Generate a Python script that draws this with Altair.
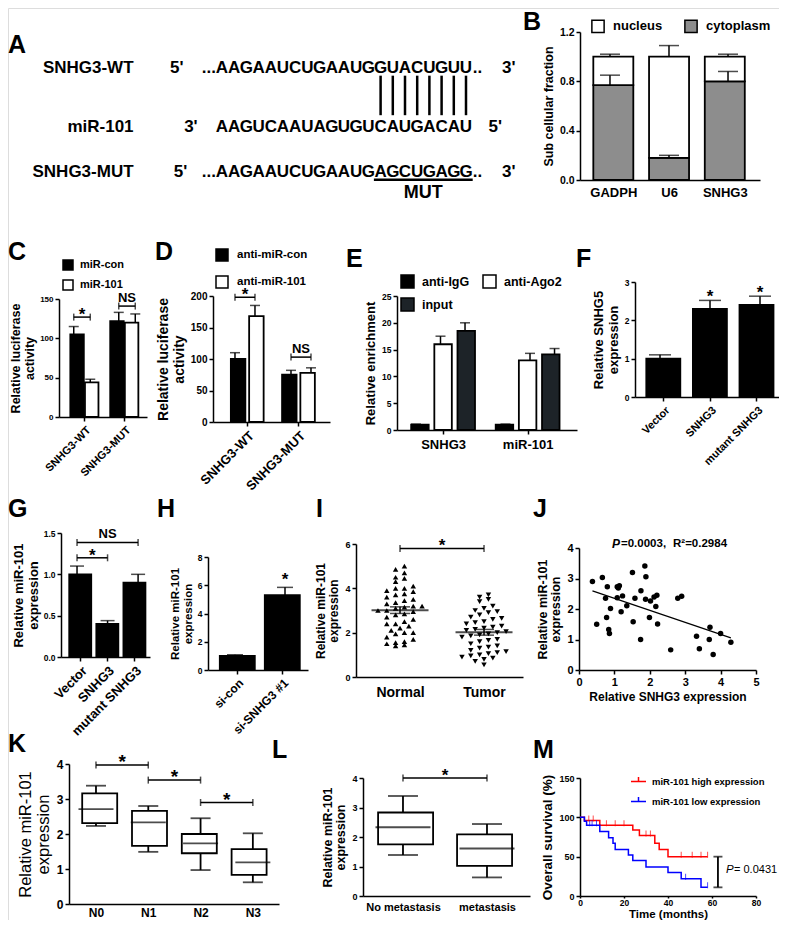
import json
import numpy as np
import pandas as pd
import altair as alt

FONT = "Liberation Sans"
W, H = 771, 912
M0 = 8  # page margin: image px -> canvas px

# ======================= DATA =======================
# A: sequences
A_ROWS = ["SNHG3-WT", "miR-101", "SNHG3-MUT"]
A_SEQ = ["AAGAAUCUGAAUGGUACUGUU", "AAGUCAAUAGUGUCAUGACAU", "AAGAAUCUGAAUGAGCUGAGG"]
A_END5 = ["5'", "3'", "5'"]
A_END3 = ["3'", "5'", "3'"]
A_LEAD = ["...", "", "..."]
A_TRAIL = ["..", "", ".."]
A_PAIRED = [13, 14, 15, 16, 17, 18, 19, 20]
A_MUTATED = [13, 14, 15, 16, 17, 18, 19, 20]

# B: subcellular fraction
B_GENES = ["GADPH", "U6", "SNHG3"]
B_PARTS = ["nucleus", "cytoplasm"]
B_CYTO = [0.77, 0.18, 0.80]
B_CYTO_SEM = [0.08, 0.02, 0.08]
B_TOTAL = [1.0, 1.0, 1.0]
B_TOTAL_SEM = [0.02, 0.09, 0.02]

# C
C_GROUPS = ["SNHG3-WT", "SNHG3-MUT"]
C_SERIES = ["miR-con", "miR-101"]
C_MEAN = [[105, 122], [44, 120]]
C_SEM = [[10, 11], [4, 11]]
C_SIG = [(0, 127, "*"), (1, 141, "NS")]

# D
D_GROUPS = ["SNHG3-WT", "SNHG3-MUT"]
D_SERIES = ["anti-miR-con", "anti-miR-101"]
D_MEAN = [[100, 75], [168, 78]]
D_SEM = [[10, 7], [17, 8]]
D_SIG = [(0, 198, "*"), (1, 103, "NS")]

# E
E_GROUPS = ["SNHG3", "miR-101"]
E_SERIES = ["anti-IgG", "anti-Ago2", "input"]
E_MEAN = [[1.0, 1.0], [16.0, 13.0], [18.5, 14.1]]
E_SEM = [[0.1, 0.1], [1.5, 1.3], [1.5, 1.1]]

# F
F_CATS = ["Vector", "SNHG3", "mutant SNHG3"]
F_MEAN = [1.0, 2.3, 2.4]
F_SEM = [0.1, 0.22, 0.23]
F_STARS = [1, 2]

# G
G_CATS = ["Vector", "SNHG3", "mutant SNHG3"]
G_MEAN = [1.0, 0.4, 0.9]
G_SEM = [0.1, 0.04, 0.1]
G_SIG = [(0, 1, 1.2, "*"), (0, 2, 1.385, "NS")]

# H
H_CATS = ["si-con", "si-SNHG3 #1"]
H_MEAN = [1.0, 5.3]
H_SEM = [0.08, 0.55]
H_STARS = [1]

# I
I_CATS = ["Normal", "Tumor"]
I_NORMAL = [5.0, 4.85, 4.7, 4.5, 4.45, 4.3, 4.1, 4.0, 4.0, 3.9, 3.85, 3.75, 3.7, 3.6, 3.5,
            3.45, 3.35, 3.3, 3.2, 3.2, 3.15, 3.1, 3.0, 3.0, 2.95, 2.85, 2.8, 2.7, 2.6, 2.5,
            2.4, 2.4, 2.3, 2.2, 2.1, 2.0, 2.0, 1.95, 1.8, 1.7, 1.6, 1.55, 1.5, 1.45, 1.4]
I_TUMOR = [3.7, 3.6, 3.5, 3.4, 3.2, 3.1, 3.0, 2.95, 2.9, 2.8, 2.7, 2.65, 2.6, 2.5, 2.45,
           2.4, 2.3, 2.25, 2.2, 2.15, 2.1, 2.05, 2.0, 1.95, 1.9, 1.85, 1.8, 1.7, 1.65, 1.6,
           1.5, 1.4, 1.35, 1.3, 1.2, 1.15, 1.1, 1.05, 1.0, 0.95, 0.9, 0.85, 0.8, 0.7, 0.55]
I_SIG = [(0, 1, 5.8, "*")]

# J
J_X = [0.38, 0.66, 0.80, 1.08, 1.14, 1.11, 1.23, 0.75, 1.51, 1.86, 1.89, 1.75, 1.58, 1.88, 2.12,
       2.20, 2.79, 2.90, 0.50, 0.78, 0.84, 0.86, 0.89, 1.19, 1.35, 1.53, 1.74, 1.99, 2.02, 2.17,
       2.22, 2.59, 3.32, 3.40, 3.68, 3.70, 3.79, 4.00, 4.29, 1.08]
J_Y = [2.90, 3.03, 2.73, 2.73, 2.76, 2.69, 2.43, 2.35, 3.20, 3.41, 3.06, 2.60, 2.35, 2.32, 2.39,
       2.45, 2.35, 2.42, 1.50, 1.72, 1.33, 1.20, 2.02, 1.91, 2.11, 1.58, 1.00, 1.72, 2.26, 2.08,
       1.51, 0.66, 1.11, 0.70, 1.00, 1.40, 0.51, 1.20, 0.91, 2.37]
J_P = "0.0003"
J_R2 = "0.2984"

# K
K_CATS = ["N0", "N1", "N2", "N3"]
K_MIN = [2.23, 1.49, 0.97, 0.62]
K_Q1 = [2.31, 1.66, 1.45, 0.83]
K_MED = [2.71, 2.33, 1.73, 1.19]
K_Q3 = [3.16, 2.66, 2.00, 1.57]
K_MAX = [3.38, 2.80, 2.45, 2.02]
K_SIG = [(0, 1, 3.97, "*"), (1, 2, 3.54, "*"), (2, 3, 2.9, "*")]

# L
L_CATS = ["No metastasis", "metastasis"]
L_MIN = [1.39, 0.63]
L_Q1 = [1.75, 1.02]
L_MED = [2.33, 1.61]
L_Q3 = [2.83, 2.09]
L_MAX = [3.39, 2.44]
L_SIG = [(0, 1, 4.0, "*")]

# M
M_GROUPS = ["miR-101 high expression", "miR-101 low expression"]
M_HIGH_T = [0, 2, 9, 24, 27, 34, 36, 40, 58]
M_HIGH_S = [100, 96, 90, 84, 77, 67, 59, 50, 50]
M_LOW_T = [0, 2, 3, 9, 13, 15, 16, 22, 24, 30, 40, 46, 55, 58]
M_LOW_S = [100, 95, 90, 82, 74, 67, 59, 52, 45, 37, 30, 22, 11, 11]
M_HIGH_CENS = [4, 6, 12, 16, 20, 30, 32, 46, 51, 55, 58]
M_LOW_CENS = [4.4, 5.5, 7.5, 48, 58]
M_P = "0.0431"

# ======================= HELPERS =======================
def sc(domain, lo, hi):
    return alt.Scale(domain=domain, range=[lo - M0, hi - M0], zero=False, nice=False)


def Xq(f, s, axis=None):
    return alt.X(f + ":Q", scale=s, axis=axis)


def Yq(f, s, axis=None):
    return alt.Y(f + ":Q", scale=s, axis=axis)


def y_axis(x_img, values, title, lsize=9, tsize=13, fmt=None, tweight="bold", tpad=4, lpad=2):
    kw = dict(orient="left", offset=-(x_img - M0), values=values, grid=False, title=title,
              domainColor="black", domainWidth=1.5, tickColor="black", tickWidth=1.5, tickSize=4,
              labelFont=FONT, labelFontSize=lsize, labelFontWeight="bold", labelColor="black",
              labelPadding=lpad, labelFlush=False, labelOverlap=False,
              titleFont=FONT, titleFontSize=tsize, titleFontWeight=tweight, titleColor="black",
              titlePadding=tpad, titleLineHeight=tsize * 1.1)
    if fmt:
        kw["format"] = fmt
    return alt.Axis(**kw)


def x_axis(y_img, values, labels=None, lsize=11, angle=0, ticks=True, title=None, tsize=13,
           lpad=2, tpad=3, tick_size=4, title_y=None):
    kw = dict(orient="bottom", offset=(y_img - M0) - H, values=values, grid=False,
              domainColor="black", domainWidth=1.5, tickColor="black", tickWidth=1.5,
              ticks=ticks, tickSize=tick_size if ticks else 0,
              labelFont=FONT, labelFontSize=lsize, labelFontWeight="bold", labelColor="black",
              labelPadding=lpad, labelFlush=False, labelOverlap=False, labelAngle=angle)
    if labels is not None:
        kw["labelExpr"] = json.dumps(labels) + "[round(datum.value)]"
    if angle:
        kw["labelAlign"] = "right"
        kw["labelBaseline"] = "top"
    if title:
        kw.update(title=title, titleFont=FONT, titleFontSize=tsize, titleFontWeight="bold",
                  titleColor="black", titlePadding=tpad)
        if title_y is not None:
            kw.update(titleY=title_y, titleBaseline="alphabetic")
    else:
        kw["title"] = None
    return alt.Axis(**kw)


def legend(x_img, y_img, size, lsize, offset, direction="vertical", columns=0, colpad=10,
           rowpad=2, symbol="square", stroke_w=1.5):
    kw = dict(title=None, orient="none", legendX=x_img - M0, legendY=y_img - M0,
              direction=direction, symbolType=symbol, symbolSize=size,
              symbolStrokeWidth=stroke_w, symbolStrokeColor="black",
              labelFont=FONT, labelFontSize=lsize, labelFontWeight="bold", labelColor="black",
              labelOffset=offset, columnPadding=colpad, rowPadding=rowpad, padding=0)
    if columns:
        kw["columns"] = columns
    return alt.Legend(**kw)


def bar_panel(cats, series, means, sems, colors, xs, ys, xax, yax, bar_w, cap_w, dodge, leg=None,
              legend_order=None):
    ns = len(series)
    rows = []
    for si, s in enumerate(series):
        off = (si - (ns - 1) / 2) * dodge
        for ci in range(len(cats)):
            m, e = means[si][ci], sems[si][ci]
            rows.append(dict(series=s, x=ci + off, v=m, base=0.0, top=m + e))
    df = pd.DataFrame(rows)
    dom = legend_order or series
    rng = [colors[series.index(s)] for s in dom]
    color = alt.Color("series:N", scale=alt.Scale(domain=dom, range=rng), legend=leg)
    bars = alt.Chart(df).mark_bar(width=bar_w, stroke="black", strokeWidth=1.8).encode(
        x=Xq("x", xs, xax), y=Yq("v", ys, yax), y2="base:Q", color=color)
    err = alt.Chart(df).mark_rule(color="black", strokeWidth=1.5).encode(
        x=Xq("x", xs), y=Yq("v", ys), y2="top:Q")
    cap = alt.Chart(df).mark_tick(orient="horizontal", size=cap_w, thickness=1.5, color="black").encode(
        x=Xq("x", xs), y=Yq("top", ys))
    return [bars, err, cap], df


def brackets(rows, xs, ys, tick=7, star_size=17, ns_size=13, star_dy=3):
    df = pd.DataFrame([dict(x1=a, x2=b, lv=l, lab=t, xm=(a + b) / 2) for a, b, l, t in rows])
    out = [alt.Chart(df).mark_rule(color="black", strokeWidth=1.5).encode(
        x=Xq("x1", xs), x2="x2:Q", y=Yq("lv", ys))]
    ends = pd.DataFrame([dict(x=v, lv=l) for a, b, l, t in rows for v in (a, b)])
    out.append(alt.Chart(ends).mark_tick(orient="vertical", size=tick, thickness=1.5, color="black").encode(
        x=Xq("x", xs), y=Yq("lv", ys)))
    star = df[df.lab == "*"]
    nsd = df[df.lab != "*"]
    if len(star):
        out.append(alt.Chart(star).mark_text(font=FONT, fontSize=star_size, fontWeight="bold",
                                             baseline="alphabetic", dy=star_dy, color="black").encode(
            x=Xq("xm", xs), y=Yq("lv", ys), text="lab:N"))
    if len(nsd):
        out.append(alt.Chart(nsd).mark_text(font=FONT, fontSize=ns_size, fontWeight="bold",
                                            baseline="alphabetic", dy=-4.5, color="black").encode(
            x=Xq("xm", xs), y=Yq("lv", ys), text="lab:N"))
    return out


def box_panel(mins, q1, med, q3, maxs, xs, ys, xax, yax, box_w, cap_w):
    df = pd.DataFrame(dict(k=list(range(len(mins))), lo=mins, q1=q1, med=med, q3=q3, hi=maxs))
    out = [
        alt.Chart(df).mark_rule(color="black", strokeWidth=1.8).encode(
            x=Xq("k", xs, xax), y=Yq("lo", ys, yax), y2="hi:Q"),
        alt.Chart(df).mark_bar(width=box_w, fill="white", stroke="black", strokeWidth=1.8).encode(
            x=Xq("k", xs), y=Yq("q1", ys), y2="q3:Q"),
        alt.Chart(df).mark_tick(orient="horizontal", size=box_w, thickness=1.8, color="black").encode(
            x=Xq("k", xs), y=Yq("med", ys)),
        alt.Chart(df).mark_tick(orient="horizontal", size=cap_w, thickness=1.8, color="black").encode(
            x=Xq("k", xs), y=Yq("lo", ys)),
        alt.Chart(df).mark_tick(orient="horizontal", size=cap_w, thickness=1.8, color="black").encode(
            x=Xq("k", xs), y=Yq("hi", ys)),
    ]
    return out


def pixel_text(rows, size, weight="bold", style="normal", align="left", baseline="middle"):
    df = pd.DataFrame([dict(t=t, x=x - M0, y=y - M0) for t, x, y in rows])
    return alt.Chart(df).mark_text(font=FONT, fontSize=size, fontWeight=weight, fontStyle=style,
                                   align=align, baseline=baseline, color="black").encode(
        x=alt.X("x:Q", scale=None, axis=None), y=alt.Y("y:Q", scale=None, axis=None), text="t:N")


layers = []

# ======================= PANEL A =======================
a_x = sc([-15, 26], 39, 539.2)
a_y = alt.Scale(domain=[0, 1, 2], range=[68 - M0, 127 - M0, 172 - M0], zero=False, nice=False)
LBL_I = -7.25
END5_I = [-3.7, -2.55, -3.4]
END3_I = [23.5, 22.4, 23.5]

a_chars = pd.DataFrame([dict(row=r, i=k, ch=c) for r, s in enumerate(A_SEQ) for k, c in enumerate(s)])
a_lbl = pd.DataFrame(dict(row=[0, 1, 2], i=[LBL_I] * 3, t=A_ROWS))
a_ends = pd.DataFrame(dict(row=[0, 1, 2] * 2, i=END5_I + END3_I, t=A_END5 + A_END3))
a_lead = pd.DataFrame([dict(row=r, i=-0.5, t=t) for r, t in enumerate(A_LEAD) if t])
a_trail = pd.DataFrame([dict(row=r, i=len(A_SEQ[r]) - 0.45, t=t) for r, t in enumerate(A_TRAIL) if t])
a_pairs = pd.DataFrame(dict(i=A_PAIRED, y0=[0.13] * len(A_PAIRED), y1=[0.8] * len(A_PAIRED)))
a_under = pd.DataFrame(dict(x0=[min(A_MUTATED) - 0.55], x1=[max(A_MUTATED) + 0.55], y=[2.17]))
a_mut = pd.DataFrame(dict(i=[sum(A_MUTATED) / len(A_MUTATED)], row=[2.47], t=["MUT"]))


def a_text(df, size=17, align="center"):
    return alt.Chart(df).mark_text(font=FONT, fontSize=size, fontWeight="bold", align=align,
                                   color="black").encode(
        x=Xq("i", a_x), y=alt.Y("row:Q", scale=a_y, axis=None), text=alt.Text(df.columns[-1] + ":N"))


layers += [
    a_text(a_chars),
    a_text(a_lbl, 17, "right"),
    a_text(a_ends, 17),
    a_text(a_lead, 17, "right"),
    a_text(a_trail, 17, "left"),
    alt.Chart(a_pairs).mark_rule(color="black", strokeWidth=2.5).encode(
        x=Xq("i", a_x), y=alt.Y("y0:Q", scale=a_y, axis=None), y2="y1:Q"),
    alt.Chart(a_under).mark_rule(color="black", strokeWidth=2.5).encode(
        x=Xq("x0", a_x), x2="x1:Q", y=alt.Y("y:Q", scale=a_y, axis=None)),
    a_text(a_mut, 18),
]

# ======================= PANEL B =======================
bx = sc([-0.508, 2.542], 580, 760)
by = sc([0, 1.2], 180, 32)
b_rows = []
for k in range(len(B_GENES)):
    b_rows.append(dict(k=k, part="cytoplasm", y0=0.0, y1=B_CYTO[k]))
    b_rows.append(dict(k=k, part="nucleus", y0=B_CYTO[k], y1=B_TOTAL[k]))
b_df = pd.DataFrame(b_rows)
b_err = pd.DataFrame(dict(k=list(range(3)) * 2, v=B_CYTO + B_TOTAL,
                          top=[c + e for c, e in zip(B_CYTO, B_CYTO_SEM)] +
                              [t + e for t, e in zip(B_TOTAL, B_TOTAL_SEM)]))
layers += [
    alt.Chart(b_df).mark_bar(width=40, stroke="black", strokeWidth=1.8).encode(
        x=Xq("k", bx, x_axis(180, [0, 1, 2], B_GENES, lsize=13, ticks=False, lpad=6)),
        y=Yq("y0", by, y_axis(580, [0, 0.4, 0.8, 1.2], "Sub cellular fraction", lsize=10.5,
                              tsize=12.5, fmt=".1f")),
        y2="y1:Q",
        color=alt.Color("part:N", scale=alt.Scale(domain=B_PARTS, range=["white", "#8d8d8d"]),
                        legend=legend(591, 19, 150, 13, 8, direction="horizontal", colpad=18))),
    alt.Chart(b_err).mark_rule(color="black", strokeWidth=1.5).encode(
        x=Xq("k", bx), y=Yq("v", by), y2="top:Q"),
    alt.Chart(b_err).mark_tick(orient="horizontal", size=20, thickness=1.5, color="black").encode(
        x=Xq("k", bx), y=Yq("top", by)),
]

# ======================= PANEL C =======================
cx = sc([-0.511, 1.444], 59, 147)
cy = sc([0, 150], 417, 299)
c_dodge = 0.367
c_layers, _ = bar_panel(C_GROUPS, C_SERIES, C_MEAN, C_SEM, ["black", "white"], cx, cy,
                        x_axis(417, [0, 1], C_GROUPS, lsize=11, angle=-45, lpad=3),
                        y_axis(59, [0, 50, 100, 150], ["Relative luciferase", "activity"], lsize=8,
                               tsize=12.5, tpad=3),
                        13.5, 10, c_dodge, legend(62, 259, 100, 11, 6, rowpad=4))
layers += c_layers
layers += brackets([(g - c_dodge / 2, g + c_dodge / 2, l, t) for g, l, t in C_SIG], cx, cy)

# ======================= PANEL D =======================
dx = sc([-0.571, 1.518], 213, 330)
dy_ = sc([0, 200], 422, 296)
d_dodge = 0.357
d_layers, _ = bar_panel(D_GROUPS, D_SERIES, D_MEAN, D_SEM, ["black", "white"], dx, dy_,
                        x_axis(422, [0, 1], D_GROUPS, lsize=13, angle=-45, lpad=3),
                        y_axis(213, [0, 50, 100, 150, 200], ["Relative luciferase", "activity"],
                               lsize=10, tsize=14),
                        14.5, 10, d_dodge, legend(215, 248, 144, 11.5, 8, rowpad=9))
layers += d_layers
layers += brackets([(g - d_dodge / 2, g + d_dodge / 2, l, t) for g, l, t in D_SIG], dx, dy_)

# ======================= PANEL E =======================
ex = sc([-0.486, 1.525], 397, 577)
ey = sc([0, 25], 430, 296)
e_layers, _ = bar_panel(E_GROUPS, E_SERIES, E_MEAN, E_SEM, ["black", "white", "#1d2328"], ex, ey,
                        x_axis(430, [0, 1], E_GROUPS, lsize=13, lpad=4),
                        y_axis(397, [0, 5, 10, 15, 20, 25], "Relative enrichment", lsize=8.5,
                               tsize=13),
                        17.5, 10, 0.274,
                        legend(400, 274, 169, 12.5, 7, columns=2, colpad=10, rowpad=4),
                        legend_order=["anti-IgG", "input", "anti-Ago2"])
layers += e_layers

# ======================= PANEL F =======================
fx = sc([-0.5, 2.44], 635, 782)
fy = sc([0, 3], 397, 282)
f_layers, f_df = bar_panel(F_CATS, ["v"], [F_MEAN], [F_SEM], ["black"], fx, fy,
                           x_axis(397, [0, 1, 2], F_CATS, lsize=11, angle=-45, lpad=3),
                           y_axis(635, [0, 1, 2, 3], ["Relative SNHG5", "expression"], lsize=8.5,
                                  tsize=13),
                           34, 22, 0)
layers += f_layers
f_star = f_df[f_df.x.isin(F_STARS)].assign(t="*")
layers.append(alt.Chart(f_star).mark_text(font=FONT, fontSize=17, fontWeight="bold",
                                          baseline="alphabetic", dy=2, color="black").encode(
    x=Xq("x", fx), y=Yq("top", fy), text="t:N"))

# ======================= PANEL G =======================
gx = sc([-0.525, 2.39], 61, 150)
gy = sc([0, 1.5], 657, 533)
g_layers, _ = bar_panel(G_CATS, ["v"], [G_MEAN], [G_SEM], ["black"], gx, gy,
                        x_axis(657, [0, 1, 2], G_CATS, lsize=13, angle=-45, lpad=3),
                        y_axis(61, [0, 0.5, 1.0, 1.5], ["Relative miR-101", "expression"],
                               lsize=8.5, tsize=13, fmt=".1f", tpad=3),
                        22, 14, 0)
layers += g_layers
layers += brackets(G_SIG, gx, gy)

# ======================= PANEL H =======================
hx = sc([-0.54, 1.46], 208, 308)
hy = sc([0, 8], 670, 557)
h_layers, h_df = bar_panel(H_CATS, ["v"], [H_MEAN], [H_SEM], ["black"], hx, hy,
                           x_axis(670, [0, 1], H_CATS, lsize=12, angle=-45, lpad=3),
                           y_axis(208, [0, 2, 4, 6, 8], ["Relative miR-101", "expression"],
                                  lsize=8.5, tsize=11.5),
                           35, 16, 0)
layers += h_layers
h_star = h_df[h_df.x.isin(H_STARS)].assign(t="*")
layers.append(alt.Chart(h_star).mark_text(font=FONT, fontSize=17, fontWeight="bold",
                                          baseline="alphabetic", dy=-2, color="black").encode(
    x=Xq("x", hx), y=Yq("top", hy), text="t:N"))

# ======================= PANEL I =======================
ix = sc([-0.524, 1.464], 356, 523)
iy = sc([0, 6], 677, 544)


def swarm(values, bin_w=0.3, step=0.105):
    vals = np.asarray(values, dtype=float)
    bins = np.floor(vals / bin_w)
    offs = np.zeros(len(vals))
    for b in np.unique(bins):
        idx = np.where(bins == b)[0]
        idx = idx[np.argsort(vals[idx])]
        n = len(idx)
        for j, p in enumerate(idx):
            offs[p] = (j - (n - 1) / 2) * step
    return offs


i_rows = []
for k, (cat, vals) in enumerate(zip(I_CATS, [I_NORMAL, I_TUMOR])):
    for v, o in zip(vals, swarm(vals)):
        i_rows.append(dict(k=k, cat=cat, v=v, x=k + o))
i_df = pd.DataFrame(i_rows)
layers.append(alt.Chart(i_df).mark_point(filled=True, size=30, color="black", opacity=1).encode(
    x=Xq("x", ix, x_axis(677, [0, 1], I_CATS, lsize=14, ticks=False, lpad=8)),
    y=Yq("v", iy, y_axis(356, [0, 2, 4, 6], ["Relative miR-101", "expression"], lsize=9, tsize=12)),
    shape=alt.Shape("cat:N", scale=alt.Scale(domain=I_CATS, range=["triangle-up", "triangle-down"]),
                    legend=None)))
i_base = alt.Chart(i_df).transform_aggregate(
    m="mean(v)", se="stderr(v)", groupby=["k"]).transform_calculate(
    lo="datum.m - datum.se", hi="datum.m + datum.se")
layers += [
    i_base.mark_tick(orient="horizontal", size=57, thickness=2, color="black").encode(
        x=Xq("k", ix), y=Yq("m", iy)),
    i_base.mark_rule(color="black", strokeWidth=1.5).encode(x=Xq("k", ix), y=Yq("lo", iy), y2="hi:Q"),
    i_base.mark_tick(orient="horizontal", size=20, thickness=1.5, color="black").encode(
        x=Xq("k", ix), y=Yq("lo", iy)),
    i_base.mark_tick(orient="horizontal", size=20, thickness=1.5, color="black").encode(
        x=Xq("k", ix), y=Yq("hi", iy)),
]
layers += brackets(I_SIG, ix, iy)

# ======================= PANEL J =======================
jx = sc([0, 5], 579, 756)
jy = sc([0, 4], 670, 548)
j_df = pd.DataFrame(dict(x=J_X, y=J_Y))
layers += [
    alt.Chart(j_df).mark_circle(size=30, color="black", opacity=1).encode(
        x=Xq("x", jx, x_axis(670, [0, 1, 2, 3, 4, 5], lsize=11, title="Relative SNHG3  expression",
                             tsize=12, tpad=4)),
        y=Yq("y", jy, y_axis(579, [0, 1, 2, 3, 4], ["Relative miR-101", "expression"], lsize=11,
                             tsize=12.5))),
    alt.Chart(j_df).transform_regression("x", "y").mark_line(color="black", strokeWidth=1.2).encode(
        x=Xq("x", jx), y=Yq("y", jy)),
    pixel_text([("P", 612, 544)], 12, style="italic"),
    pixel_text([("=" + J_P + ",", 621, 544), ("R\u00b2=" + J_R2, 673, 544)], 11.5),
]

# ======================= PANEL K =======================
kx = sc([-0.516, 3.5], 69, 279)
ky = sc([0, 4], 904, 764)
layers += box_panel(K_MIN, K_Q1, K_MED, K_Q3, K_MAX, kx, ky,
                    x_axis(904, [0, 1, 2, 3], K_CATS, lsize=12, ticks=False, lpad=3),
                    y_axis(69, [0, 1, 2, 3, 4], ["Relative miR-101", "expression"], lsize=12,
                           tsize=16.5, tweight="normal", tpad=5),
                    35, 20)
layers += brackets(K_SIG, kx, ky, star_size=19)

# ======================= PANEL L =======================
lx = sc([-0.476, 1.512], 363, 530)
ly = sc([0, 4], 896, 778)
layers += box_panel(L_MIN, L_Q1, L_MED, L_Q3, L_MAX, lx, ly,
                    x_axis(896, [0, 1], L_CATS, lsize=11, ticks=False, lpad=5),
                    y_axis(363, [0, 1, 2, 3, 4], ["Relative miR-101", "expression"], lsize=9,
                           tsize=12.5),
                    55, 30)
layers += brackets(L_SIG, lx, ly)

# ======================= PANEL M =======================
mx = sc([0, 80], 580, 756)
my = sc([0, 150], 896, 778)


def step_val(ts, ss, t):
    v = ss[0]
    for tt, s in zip(ts, ss):
        if tt <= t:
            v = s
    return v


m_curve = pd.DataFrame(
    [dict(g=M_GROUPS[0], t=t, s=s) for t, s in zip(M_HIGH_T, M_HIGH_S)] +
    [dict(g=M_GROUPS[1], t=t, s=s) for t, s in zip(M_LOW_T, M_LOW_S)])
m_cens = pd.DataFrame(
    [dict(g=M_GROUPS[0], t=t, s=step_val(M_HIGH_T, M_HIGH_S, t)) for t in M_HIGH_CENS] +
    [dict(g=M_GROUPS[1], t=t, s=step_val(M_LOW_T, M_LOW_S, t)) for t in M_LOW_CENS])
m_color = alt.Scale(domain=M_GROUPS, range=["#ff0000", "#0000ff"])
p_x = max(M_HIGH_T + M_LOW_T) + 4.7
m_p = pd.DataFrame(dict(x=[p_x], lo=[M_LOW_S[-1]], hi=[M_HIGH_S[-1]]))
layers += [
    alt.Chart(m_curve).mark_line(interpolate="step-after", strokeWidth=1.5).encode(
        x=Xq("t", mx, x_axis(896, [0, 20, 40, 60, 80], lsize=8.5, title="Time (months)", tsize=11.5,
                             lpad=0, tick_size=2, title_y=21.5)),
        y=Yq("s", my, y_axis(580, [0, 50, 100, 150], "Overall survival (%)", lsize=9, tsize=13.5)),
        color=alt.Color("g:N", scale=m_color,
                        legend=legend(630, 773, 225, 9.5, 5, rowpad=7, symbol="M-1,0H1M0,-0.6V0",
                                      stroke_w=1.5)),
        detail="g:N"),
    alt.Chart(m_cens).mark_tick(orient="vertical", size=6, thickness=1, yOffset=-2).encode(
        x=Xq("t", mx), y=Yq("s", my), color=alt.Color("g:N", scale=m_color, legend=None)),
    alt.Chart(m_p).mark_rule(color="black", strokeWidth=1.8).encode(
        x=Xq("x", mx), y=Yq("lo", my), y2="hi:Q"),
    alt.Chart(m_p).mark_tick(orient="horizontal", size=9, thickness=1.8, color="black").encode(
        x=Xq("x", mx), y=Yq("lo", my)),
    alt.Chart(m_p).mark_tick(orient="horizontal", size=9, thickness=1.8, color="black").encode(
        x=Xq("x", mx), y=Yq("hi", my)),
    pixel_text([("P", 726, 870)], 11.5, weight="normal", style="italic"),
    pixel_text([("= " + M_P, 734, 870)], 11, weight="normal"),
]

# ======================= PANEL LETTERS =======================
LETTERS = ["A", "B", "C", "D", "E", "F", "G", "H", "I", "J", "K", "L", "M"]
LETTER_AT = [(8, 53), (523, 30), (8, 260), (155, 260), (346, 267), (576, 267), (8, 517),
             (157, 517), (316, 517), (533, 517), (8, 752), (272, 758), (533, 758)]
layers.append(pixel_text([(t, x, y) for t, (x, y) in zip(LETTERS, LETTER_AT)], 25,
                         baseline="alphabetic"))

chart = alt.layer(*layers).properties(
    width=W, height=H, padding=0, background="white",
    autosize=alt.AutoSizeParams(type="none")
).resolve_scale(
    x="independent", y="independent", color="independent", shape="independent"
).resolve_axis(
    x="independent", y="independent"
).configure_view(stroke=None).configure(font=FONT)

chart.save("out.html", embed_options={"renderer": "svg", "actions": False})
